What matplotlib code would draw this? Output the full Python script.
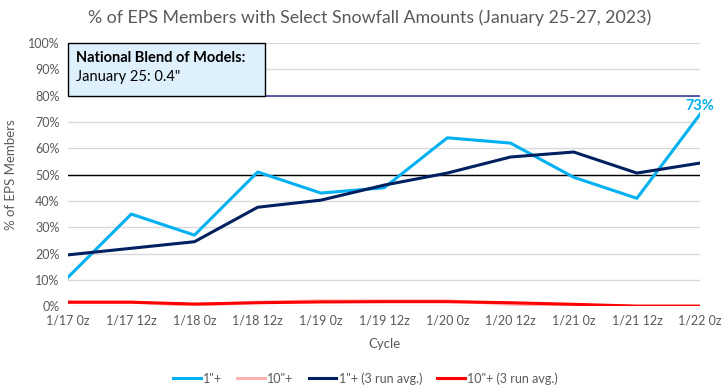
import matplotlib
matplotlib.use("Agg")
from matplotlib import pyplot as plt
from matplotlib.patches import Rectangle
import matplotlib.transforms as mtransforms

plt.rcParams['font.family'] = ['Lato', 'DejaVu Sans']

cycles = ['1/17 0z', '1/17 12z', '1/18 0z', '1/18 12z', '1/19 0z', '1/19 12z',
          '1/20 0z', '1/20 12z', '1/21 0z', '1/21 12z', '1/22 0z']
one_inch = [11, 35, 27, 51, 43, 45, 64, 62, 49, 41, 73]  # 1"+
ten_inch = [1.5, 1.5, 0.3, 1.5, 2, 2, 2, 0.8, 0, 0, 0]  # 10"+
one_inch_avg = [19.5, 22, 24.5, 37.6, 40.3, 46, 50.6, 56.7, 58.6, 50.6, 54.4]
ten_inch_avg = [1.5, 1.5, 0.8, 1.3, 1.6, 1.7, 1.7, 1.3, 0.7, 0, 0]

grey = '#595959'
fig = plt.figure(figsize=(7.24, 3.92), dpi=100)
ax = fig.add_axes([0.094, 0.219, 0.873, 0.671])

x = list(range(len(cycles)))
ax.plot(x, one_inch, color='#00B0F0', lw=2.2, label='1"+', zorder=4)
ax.plot(x, ten_inch, color='#FFB3B3', lw=2.2, label='10"+', zorder=3)
ax.plot(x, one_inch_avg, color='#002060', lw=2.2, label='1"+ (3 run avg.)', zorder=4)
ax.plot(x, ten_inch_avg, color='#FF0000', lw=2.2, label='10"+ (3 run avg.)', zorder=4)

ax.annotate('73%', (x[-1], one_inch[-1]), xytext=(0, 1), textcoords='offset points',
            ha='center', va='bottom', color='#00B0F0', fontsize=10.5, fontweight='bold')

ax.set_xlim(0, len(cycles) - 1)
ax.set_ylim(0, 100)
ax.set_yticks(range(0, 101, 10))
ax.set_yticklabels(['{}%'.format(v) for v in range(0, 101, 10)])
ax.set_xticks(x)
ax.set_xticklabels(cycles)
ax.tick_params(length=0, colors=grey, labelsize=9, pad=6)
ax.grid(axis='y', color='#D9D9D9', lw=1)
ax.set_axisbelow(True)
for s in ax.spines.values():
    s.set_visible(False)

ax.axhline(50, color='black', lw=1, zorder=2)
ax.axhline(80, color='#3F3F9F', lw=1.2, zorder=2)

# info box
trans = mtransforms.blended_transform_factory(ax.transAxes, ax.transData)
box = Rectangle((0, 80), 0.312, 20, transform=trans, facecolor='#DDF0FB',
                edgecolor='black', lw=1, zorder=5, clip_on=False)
ax.add_patch(box)
ax.text(0.012, 94.5, 'National Blend of Models:', transform=trans, fontsize=10.5,
        fontweight='bold', va='center', zorder=6)
ax.text(0.012, 87, 'January 25: 0.4"', transform=trans, fontsize=10.5, va='center', zorder=6)

ax.set_xlabel('Cycle', color=grey, fontsize=9.5, labelpad=8)
ax.set_ylabel('% of EPS Members', color=grey, fontsize=9.5, labelpad=8)
fig.suptitle('% of EPS Members with Select Snowfall Amounts (January 25-27, 2023)',
             color=grey, fontsize=12.8, y=0.975, x=0.51)

fig.legend(loc='lower center', ncol=4, frameon=False, fontsize=9,
           bbox_to_anchor=(0.505, -0.01), handlelength=2.2, columnspacing=1.2,
           labelcolor=grey, handletextpad=0.2)

fig.savefig('out.png', dpi=100)
